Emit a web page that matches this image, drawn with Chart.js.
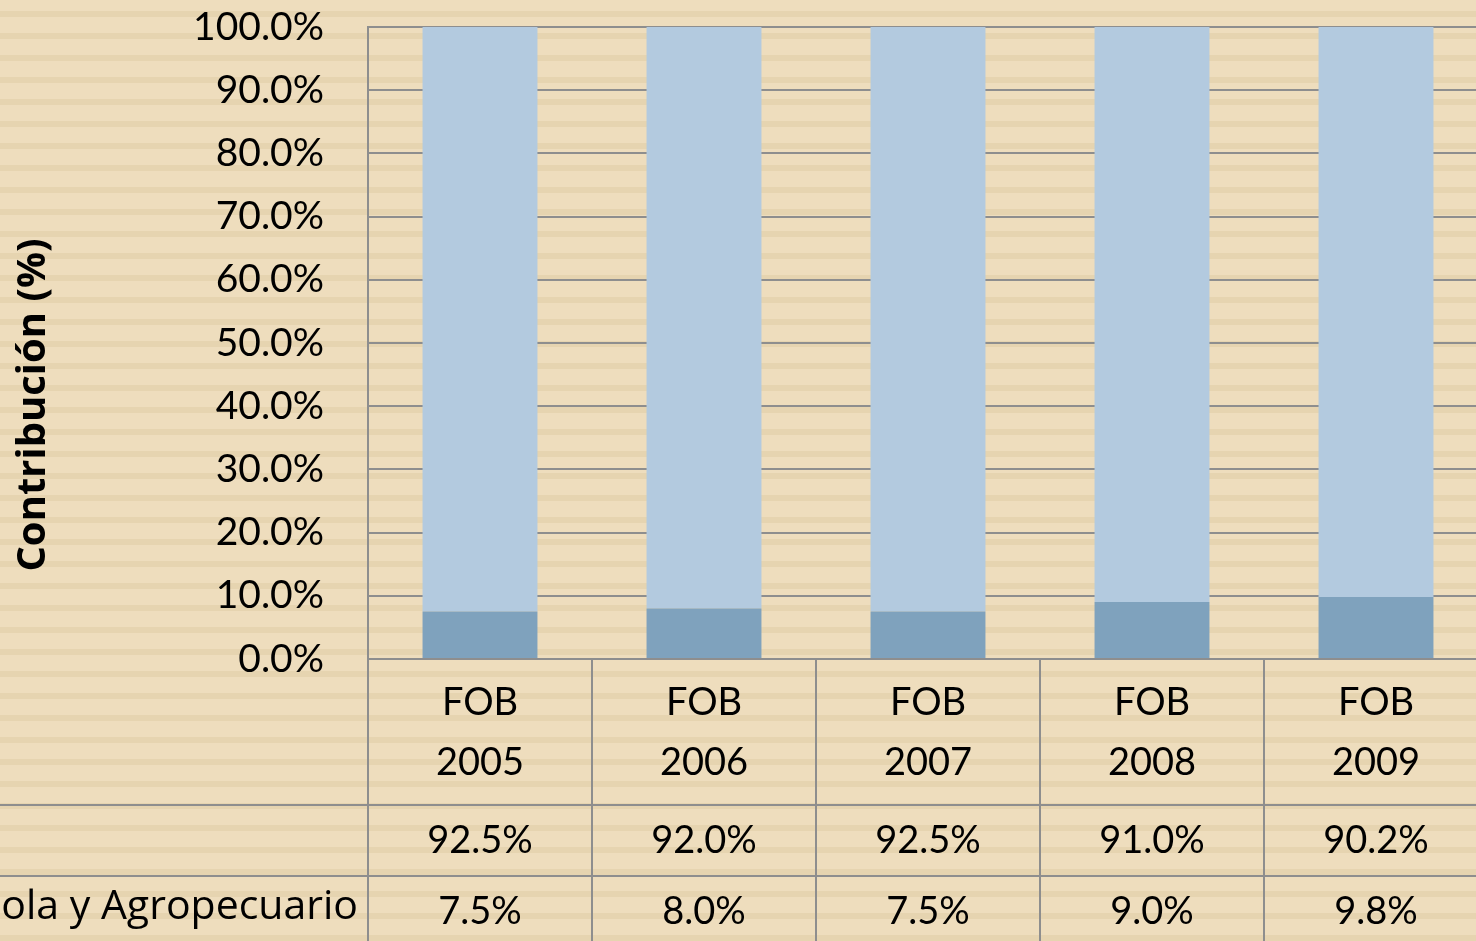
<!DOCTYPE html>
<html lang="es">
<head>
    <meta charset="UTF-8">
    <title>Contribución (%) FOB 2005-2009</title>
    <script src="https://cdn.jsdelivr.net/npm/chart.js"></script>
    <style>
        html, body {
            margin: 0;
            padding: 0;
            overflow: hidden;
            width: 1476px;
            height: 941px;
            background: repeating-linear-gradient(to bottom,
                #EEDDBD 0px, #EEDDBD 11px,
                #E6D4B0 11px, #E6D4B0 17px,
                #EEDDBD 17px, #EEDDBD 22px);
        }
        #chart { position: absolute; left: 0; top: 0; }
    </style>
</head>
<body>
    <canvas id="chart" width="1500" height="941"></canvas>

    <script>
        // data
        const years = ['2005', '2006', '2007', '2008', '2009'];
        const categories = years.map(y => ['FOB', y]);
        const restoValues = [92.5, 92.0, 92.5, 91.0, 90.2];
        const agroValues = [7.5, 8.0, 7.5, 9.0, 9.8];
        const rowLabels = ['', 'Agrícola y Agropecuario'];
        const yTitle = 'Contribución (%)';

        const lineColor = '#8E8E8E';
        const tickFont = { family: 'Lato', size: 39 };

        // draws the data table under the x axis (Excel style) and the y title,
        // which in the original is centred on plot + table, not on the axis
        const dataTable = {
            id: 'dataTable',
            afterDraw(chart) {
                const ctx = chart.ctx;
                const x = chart.scales.x;
                const area = chart.chartArea;
                const rowTop = x.bottom;          // 805
                const rowH = 71;
                const rows = [restoValues, agroValues];
                const half = (x.getPixelForValue(1) - x.getPixelForValue(0)) / 2;

                ctx.save();
                ctx.strokeStyle = lineColor;
                ctx.lineWidth = 2;
                ctx.beginPath();
                // y axis continues down through the table
                ctx.moveTo(area.left, area.bottom);
                ctx.lineTo(area.left, chart.height);
                // column separators
                for (let i = 0; i < categories.length; i++) {
                    const right = x.getPixelForValue(i) + half;
                    ctx.moveTo(right, area.bottom);
                    ctx.lineTo(right, chart.height);
                }
                // row separators
                for (let r = 0; r < rows.length; r++) {
                    const y = rowTop + r * rowH;
                    ctx.moveTo(0, y);
                    ctx.lineTo(area.right, y);
                }
                ctx.stroke();

                ctx.fillStyle = '#000';
                ctx.textBaseline = 'middle';
                rows.forEach((vals, r) => {
                    const cy = rowTop + r * rowH + rowH / 2;
                    ctx.font = '38px Lato';
                    ctx.textAlign = 'center';
                    vals.forEach((v, i) => {
                        ctx.fillText(v.toFixed(1) + '%', x.getPixelForValue(i), cy);
                    });
                    ctx.font = '41px "Open Sans"';
                    ctx.textAlign = 'right';
                    ctx.fillText(rowLabels[r], area.left - 10, cy - 4);
                });

                // y axis title
                ctx.translate(34, 405);
                ctx.rotate(-Math.PI / 2);
                ctx.font = 'bold 40px "Open Sans"';
                ctx.textAlign = 'center';
                ctx.fillText(yTitle, 0, 0);
                ctx.restore();
            }
        };

        new Chart(document.getElementById('chart'), {
            type: 'bar',
            data: {
                labels: categories,
                datasets: [
                    {
                        label: 'Agrícola y Agropecuario',
                        data: agroValues,
                        backgroundColor: '#7FA2BD',
                        categoryPercentage: 1,
                        barPercentage: 0.513
                    },
                    {
                        label: 'Resto',
                        data: restoValues,
                        backgroundColor: '#B3CADF',
                        categoryPercentage: 1,
                        barPercentage: 0.513
                    }
                ]
            },
            options: {
                responsive: false,
                animation: false,
                layout: { padding: { top: 27, right: 12, bottom: 136, left: 0 } },
                plugins: {
                    legend: { display: false },
                    tooltip: { enabled: false }
                },
                scales: {
                    x: {
                        stacked: true,
                        grid: { display: false, drawTicks: false },
                        border: { display: false },
                        ticks: {
                            font: { family: 'Lato', size: 38, lineHeight: 1.58 },
                            color: '#000',
                            padding: 14,
                            maxRotation: 0
                        },
                        afterFit: s => { s.height = 146; }
                    },
                    y: {
                        stacked: true,
                        min: 0,
                        max: 100,
                        grid: { color: lineColor, lineWidth: 2, drawTicks: false },
                        border: { display: true, color: lineColor, width: 2 },
                        ticks: {
                            stepSize: 10,
                            font: tickFont,
                            color: '#000',
                            padding: 44,
                            callback: v => v.toFixed(1) + '%'
                        },
                        afterFit: s => {
                            s.width = 368;
                            s.paddingTop = 20;
                            s.paddingBottom = 20;
                        }
                    }
                }
            },
            plugins: [dataTable]
        });
    </script>
</body>
</html>
